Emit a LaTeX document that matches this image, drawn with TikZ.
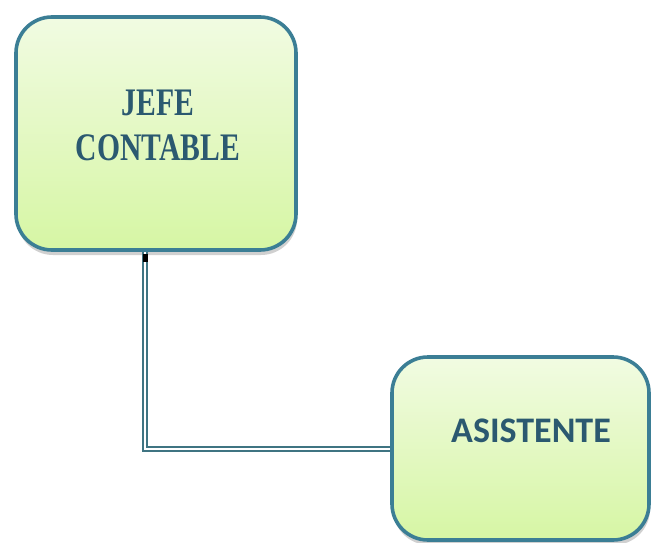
\documentclass[tikz,border=0pt]{standalone}
\usepackage{fontspec}
\usetikzlibrary{shadows}
\newfontfamily\serifb{Liberation Serif}
\newfontfamily\sansb{Carlito}
\definecolor{bord}{HTML}{3B7E95}
\definecolor{linec}{HTML}{3F7482}
\definecolor{txt}{HTML}{2B5970}
\definecolor{topc}{HTML}{F1FBE2}
\definecolor{botc}{HTML}{D6F6A4}
\begin{document}
\begin{tikzpicture}[x=1pt,y=-1pt,
  box/.style={rectangle, rounded corners=36pt, draw=bord, line width=3.6pt,
    top color=topc, bottom color=botc, inner sep=0pt,
    drop shadow={shadow xshift=1pt, shadow yshift=-5pt, opacity=0.3, fill=black!60}},
  conn/.style={draw=linec, line width=2pt, double=white, double distance=2pt},
  serlabel/.style={text=txt, align=center, inner sep=0pt,
    font=\serifb\bfseries\fontsize{39}{45}\selectfont},
  sanlabel/.style={text=txt, inner sep=0pt,
    font=\sansb\bfseries\fontsize{36}{40}\selectfont}]
\useasboundingbox[fill=white] (0,0) rectangle (653,543);
\node[box, minimum width=280pt, minimum height=233pt] (jefe) at (156,133.5) {};
\node[box, minimum width=257pt, minimum height=183pt] (asis) at (520.5,448.5) {};
\draw[conn] ([xshift=-11pt]jefe.south) |- (asis.west);
\fill[black] (143,254) rectangle (147.5,262);
\node[serlabel] (jefetxt) at (158,125) {\scalebox{0.76}[1]{JEFE}\\\scalebox{0.76}[1]{CONTABLE}};
\node[sanlabel, anchor=base] (asistxt) at (531,442) {ASISTENTE};
\end{tikzpicture}
\end{document}
